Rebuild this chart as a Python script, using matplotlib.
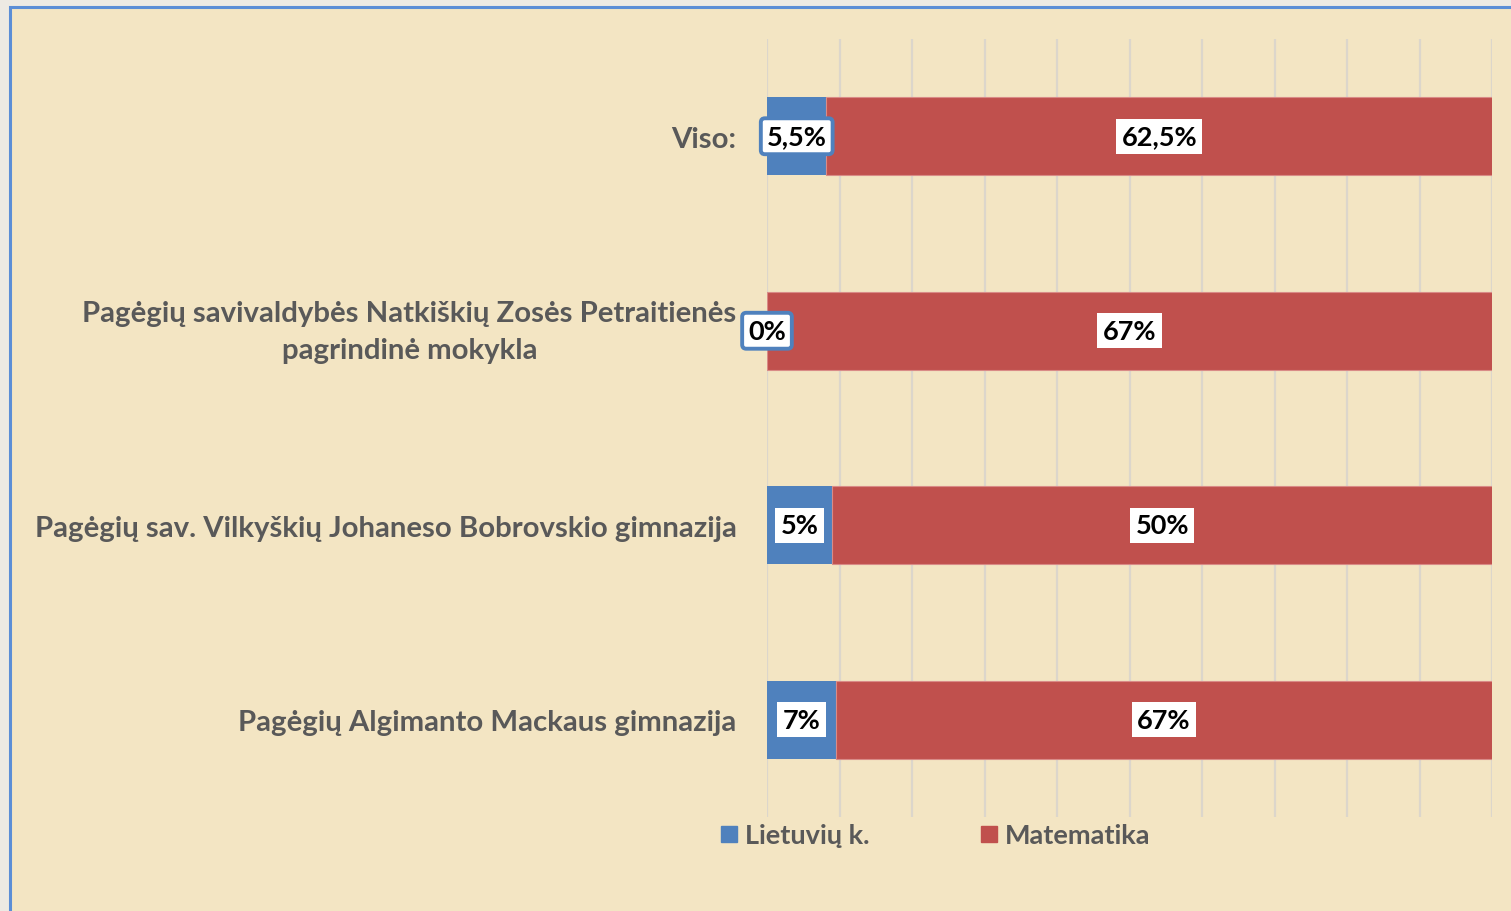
import matplotlib.pyplot as plt
from matplotlib.lines import Line2D
from matplotlib.patches import Rectangle
from matplotlib.transforms import ScaledTranslation

plt.rcParams['font.family'] = ['Lato', 'DejaVu Sans']

# top to bottom, as in the chart
schools = ["Viso:",
           "Pagėgių savivaldybės Natkiškių Zosės Petraitienės\npagrindinė mokykla",
           "Pagėgių sav. Vilkyškių Johaneso Bobrovskio gimnazija",
           "Pagėgių Algimanto Mackaus gimnazija"]
# bar lengths in gridline units (axis is cut at 10)
lietuviu = [0.82, 0.0, 0.90, 0.945]
matematika = [9.6, 10.4, 9.6, 9.7]
lietuviu_lbl = ["5,5%", "0%", "5%", "7%"]
matematika_lbl = ["62,5%", "67%", "50%", "67%"]
series = ["Lietuvių k.", "Matematika"]

BLUE = "#4F81BD"
RED = "#C0504D"
BG = "#F3E5C3"
TXT = "#595959"
XMAX = 10

fig = plt.figure(figsize=(15.11, 9.12), dpi=100, facecolor="#EDEAE3")
fig.patches.append(Rectangle((10 / 1511, -0.05), 1.1, 1.05 - 8 / 912,
                             transform=fig.transFigure, facecolor=BG,
                             edgecolor="#5B8ED6", linewidth=2.2, zorder=-10))

ax = fig.add_axes([767 / 1511, 1 - 818 / 912, (1492 - 767) / 1511, (818 - 40) / 912])
ax.set_facecolor("none")
y = list(range(len(schools)))

ax.barh(y, lietuviu, height=0.4, color=BLUE, zorder=2)
ax.barh(y, matematika, left=lietuviu, height=0.4, color=RED,
        edgecolor="#D98B87", linewidth=0.8, zorder=2)

ax.set_xlim(0, XMAX)
ax.set_ylim(3.5, -0.5)
ax.set_xticks(range(0, XMAX + 1))
ax.grid(axis="x", color="#DCD6CB", linewidth=1.6, zorder=1)
ax.tick_params(length=0, labelbottom=False)
for s in ax.spines.values():
    s.set_visible(False)

ax.set_yticks(y)
ax.set_yticklabels(schools, fontsize=21.2, fontweight="bold", color=TXT)
ax.tick_params(axis="y", pad=22)
for t in ax.get_yticklabels():
    t.set_multialignment("center")
    t.set_linespacing(1.5)
    if "\n" in t.get_text():
        # two-line label sits a bit higher in the original
        t.set_transform(t.get_transform() + ScaledTranslation(0, 0.07, fig.dpi_scale_trans))

for i in y:
    lv = lietuviu[i]
    if i < 2:
        box = dict(boxstyle="round,pad=0.22,rounding_size=0.15", facecolor="white",
                   edgecolor=BLUE, linewidth=2.8)
    else:
        box = dict(boxstyle="square,pad=0.2", facecolor="white", edgecolor="none")
    ax.text(lv / 2, i, lietuviu_lbl[i], ha="center", va="center", fontsize=19.5,
            fontweight="bold", color="black", bbox=box, zorder=4)
    end = min(lv + matematika[i], XMAX)
    ax.text((lv + end) / 2, i, matematika_lbl[i], ha="center", va="center",
            fontsize=19.5, fontweight="bold", color="black",
            bbox=dict(boxstyle="square,pad=0.2", facecolor="white", edgecolor="none"),
            zorder=4)

handles = [Line2D([], [], marker="s", linestyle="none", markersize=11,
                  markerfacecolor=c, markeredgecolor=c) for c in (BLUE, RED)]
fig.legend(handles, series, loc="center", bbox_to_anchor=(934 / 1511, 1 - 836 / 912),
           ncol=2, frameon=False, prop=dict(weight="bold", size=19.5),
           labelcolor=TXT, handletextpad=0.2, columnspacing=4.0, handlelength=0.8)

fig.savefig("out.png", dpi=100, facecolor=fig.get_facecolor())
